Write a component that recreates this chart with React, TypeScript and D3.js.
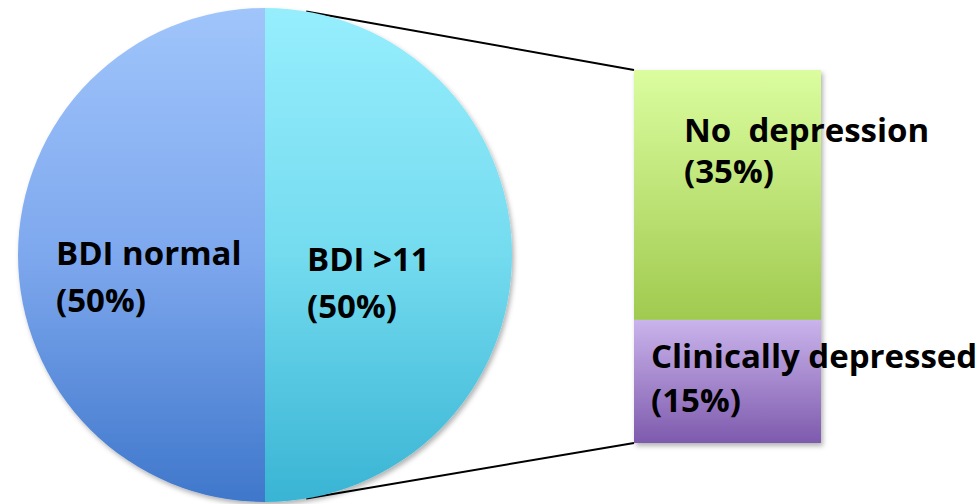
import React from "react";
import * as d3 from "d3";

const pieCategories = ["BDI >11", "BDI normal"];
const pieValues = [50, 50];
const pieLabels = [["BDI >11", "(50%)"], ["BDI normal", "(50%)"]];
const barCategories = ["No  depression", "Clinically depressed"];
const barValues = [33.5, 16.5];
const barLabels = [["No  depression", "(35%)"], ["Clinically depressed", "(15%)"]];

const W = 980;
const H = 504;
const cx = 265;
const cy = 255;
const R = 247;
const barX = 634;
const barW = 187;
const barTop = 70;
const barBottom = 443;
const connectorAngle = 9.6; // degrees from the vertical

export default function App() {
  const pie = d3.pie<number>().sort(null).startAngle(0).endAngle(2 * Math.PI);
  const arcs = pie(pieValues);
  const arcGen = d3.arc<d3.PieArcDatum<number>>().innerRadius(0).outerRadius(R);

  const total = d3.sum(barValues);
  const y = d3.scaleLinear().domain([0, total]).range([barTop, barBottom]);
  const stacks: { v0: number; v1: number }[] = [];
  let acc = 0;
  barValues.forEach((v) => {
    stacks.push({ v0: acc, v1: acc + v });
    acc += v;
  });

  const pieFills = ["url(#gRight)", "url(#gLeft)"];
  const barFills = ["url(#gGreen)", "url(#gPurple)"];

  const a = (connectorAngle * Math.PI) / 180;
  const p1 = [cx + R * Math.sin(a), cy - R * Math.cos(a)];
  const p2 = [cx + R * Math.sin(Math.PI - a), cy - R * Math.cos(Math.PI - a)];

  const font = "'Open Sans', Lato, sans-serif";
  const fs = 33;

  const pieLabelPos = [
    [307, 271],
    [56, 265],
  ];
  const barLabelPos = [
    [684, 142],
    [651, 368],
  ];
  const lineGap = [47, 47];
  const barGap = [41, 44];

  return (
    <svg
      width={W}
      height={H}
      style={{ position: "absolute", left: 0, top: 0, background: "#fff" }}
    >
      <defs>
        <linearGradient id="gLeft" gradientUnits="userSpaceOnUse" x1="0" y1={-R} x2="0" y2={R}>
          <stop offset="0" stopColor="#A0C5FB" />
          <stop offset="0.5" stopColor="#7EA8EE" />
          <stop offset="1" stopColor="#3F77CB" />
        </linearGradient>
        <linearGradient id="gRight" gradientUnits="userSpaceOnUse" x1="0" y1={-R} x2="0" y2={R}>
          <stop offset="0" stopColor="#96EEFD" />
          <stop offset="0.5" stopColor="#74DBEF" />
          <stop offset="1" stopColor="#39B4D4" />
        </linearGradient>
        <linearGradient id="gGreen" gradientUnits="userSpaceOnUse" x1="0" y1={y(stacks[0].v0)} x2="0" y2={y(stacks[0].v1)}>
          <stop offset="0" stopColor="#DBFD9F" />
          <stop offset="1" stopColor="#A0CA4F" />
        </linearGradient>
        <linearGradient id="gPurple" gradientUnits="userSpaceOnUse" x1="0" y1={y(stacks[1].v0)} x2="0" y2={y(stacks[1].v1)}>
          <stop offset="0" stopColor="#CAB4EC" />
          <stop offset="1" stopColor="#7E5AAD" />
        </linearGradient>
        <filter id="shadow" x="-10%" y="-10%" width="130%" height="130%">
          <feDropShadow dx="2" dy="3" stdDeviation="2.5" floodColor="#000" floodOpacity="0.3" />
        </filter>
      </defs>

      <line x1={p1[0]} y1={p1[1]} x2={barX} y2={barTop} stroke="#000" strokeWidth={2} />
      <line x1={p2[0]} y1={p2[1]} x2={barX} y2={barBottom} stroke="#000" strokeWidth={2} />

      <g transform={`translate(${cx},${cy})`} filter="url(#shadow)">
        {arcs.map((d, i) => (
          <path key={pieCategories[i]} d={arcGen(d) || ""} fill={pieFills[i]} />
        ))}
      </g>

      <g filter="url(#shadow)">
        {stacks.map((s, i) => (
          <rect
            key={barCategories[i]}
            x={barX}
            y={y(s.v0)}
            width={barW}
            height={y(s.v1) - y(s.v0)}
            fill={barFills[i]}
          />
        ))}
      </g>

      {pieLabels.map((lines, i) => (
        <text key={"p" + i} x={pieLabelPos[i][0]} y={pieLabelPos[i][1]} fontFamily={font} fontWeight={700} fontSize={fs} fill="#000" style={{ whiteSpace: "pre" }}>
          {lines.map((t, j) => (
            <tspan key={j} x={pieLabelPos[i][0]} dy={j === 0 ? 0 : lineGap[i]}>
              {t}
            </tspan>
          ))}
        </text>
      ))}
      {barLabels.map((lines, i) => (
        <text key={"b" + i} x={barLabelPos[i][0]} y={barLabelPos[i][1]} fontFamily={font} fontWeight={700} fontSize={fs} fill="#000" style={{ whiteSpace: "pre" }}>
          {lines.map((t, j) => (
            <tspan key={j} x={barLabelPos[i][0]} dy={j === 0 ? 0 : barGap[i]}>
              {t}
            </tspan>
          ))}
        </text>
      ))}
    </svg>
  );
}
